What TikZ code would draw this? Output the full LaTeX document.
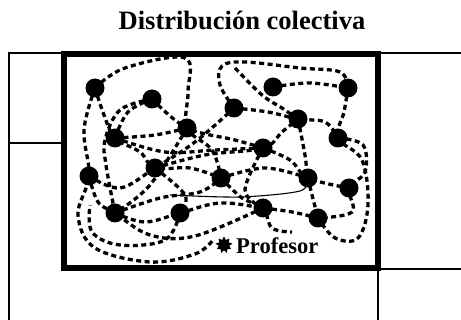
\documentclass[tikz,border=0pt]{standalone}
\usepackage{fontspec}
\setmainfont{Liberation Serif}
\usepackage{tikz}
\usetikzlibrary{shapes.geometric}

\tikzset{
  dot/.style={circle, fill=black, minimum size=19pt, inner sep=0pt},
  trail/.style={line width=3.3pt, dash pattern=on 5pt off 3.5pt, smooth, tension=0.6},
  thinline/.style={line width=1.1pt},
  boxline/.style={line width=5.5pt}
}

\begin{document}
\begin{tikzpicture}[x=1pt, y=-1pt]
  \useasboundingbox (0,0) rectangle (461,320);
  % Title
  \node[font=\fontsize{26.5}{30}\selectfont\bfseries] (title) at (242,20) {Distribución colectiva};
  % Frame lines
  \draw[thinline] (9,320) -- (9,53) -- (64,53);
  \draw[thinline] (9,143) -- (64,143);
  \draw[thinline] (378,53) -- (461,53);
  \draw[thinline] (378,269) -- (461,269);
  \draw[thinline] (378,269) -- (378,320);
  \draw[boxline] (64,54) rectangle (378,268);
  % Students
  \foreach \n/\x/\y in {1/95/88, 2/152/99, 3/234/108, 4/273/87, 5/348/88,
                        6/115/138, 7/187/128, 8/298/119, 9/338/138, 10/263/148,
                        11/89/176, 12/155/168, 13/221/178, 14/308/178, 15/349/188,
                        16/115/213, 17/180/213, 18/263/208, 19/318/218}{
    \node[dot] (p\n) at (\x,\y) {};
  }
  % Paths
  \draw[trail] plot coordinates {(p1) (125,68) (185,58) (188,92) (p7) (212,150) (p13)};
  \draw[trail] plot coordinates {(p1) (84,130) (p11) (78,215) (95,248) (150,262) (195,254) (213,240)};
  \draw[trail] plot coordinates {(p1) (104,115) (p6) (140,152) (p12) (190,168) (p13)};
  \draw[trail] plot coordinates {(p2) (p7) (235,140) (p10)};
  \draw[trail] plot coordinates {(p2) (128,112) (p6)};
  \draw[trail] plot coordinates {(p2) (120,110) (105,140) (106,165) (p16)};
  \draw[trail] plot coordinates {(p3) (220,85) (222,66) (245,62) (300,68) (340,72) (p5)};
  \draw[trail] plot coordinates {(p4) (310,83) (p5)};
  \draw[trail] plot coordinates {(p5) (344,112) (p9) (362,160) (368,205) (358,238) (335,238) (p19)};
  \draw[trail] plot coordinates {(235,68) (262,95) (282,108) (p8)};
  \draw[trail] plot coordinates {(p3) (268,112) (p8) (325,122) (p9)};
  \draw[trail] plot coordinates {(p9) (363,145) (365,172) (p15) (352,212) (p19)};
  \draw[trail] plot coordinates {(p10) (290,160) (p14) (p15)};
  \draw[trail] plot coordinates {(p8) (305,155) (p14) (p19)};
  \draw[trail] plot coordinates {(p11) (120,188) (p12) (195,142) (p3)};
  \draw[trail] plot coordinates {(p6) (155,135) (p7)};
  \draw[trail] plot coordinates {(p6) (165,152) (215,150) (p10)};
  \draw[trail] plot coordinates {(p11) (98,202) (p16) (150,235) (195,236) (p18)};
  \draw[trail] plot coordinates {(p16) (145,222) (p17) (220,203) (p18) (292,212) (p19)};
  \draw[trail] plot coordinates {(p7) (150,185) (p16)};
  \draw[trail] plot coordinates {(p16) (160,198) (200,192) (p13)};
  \draw[trail] plot coordinates {(p13) (242,198) (p18) (272,228) (292,232)};
  \draw[trail] plot coordinates {(p13) (265,168) (p14)};
  \draw[trail] plot coordinates {(p12) (205,155) (p10) (282,132) (p8)};
  \draw[trail] plot coordinates {(p17) (165,240) (120,245) (92,232) (90,205)};
  \draw[trail] plot coordinates {(p12) (185,195) (p17)};
  \draw[trail] plot coordinates {(p10) (245,190) (p18)};
  \draw[thinline, smooth] plot coordinates {(170,195) (240,197) (300,191) (p14)};
  % Teacher
  \node[star, star points=9, star point ratio=1.6, fill=black, minimum size=17pt, inner sep=0pt] (prof) at (224,245) {};
  \node[anchor=base west, font=\fontsize{22.5}{26}\selectfont\bfseries, inner sep=0pt] (proflabel) at (236,254) {Profesor};
\end{tikzpicture}
\end{document}
